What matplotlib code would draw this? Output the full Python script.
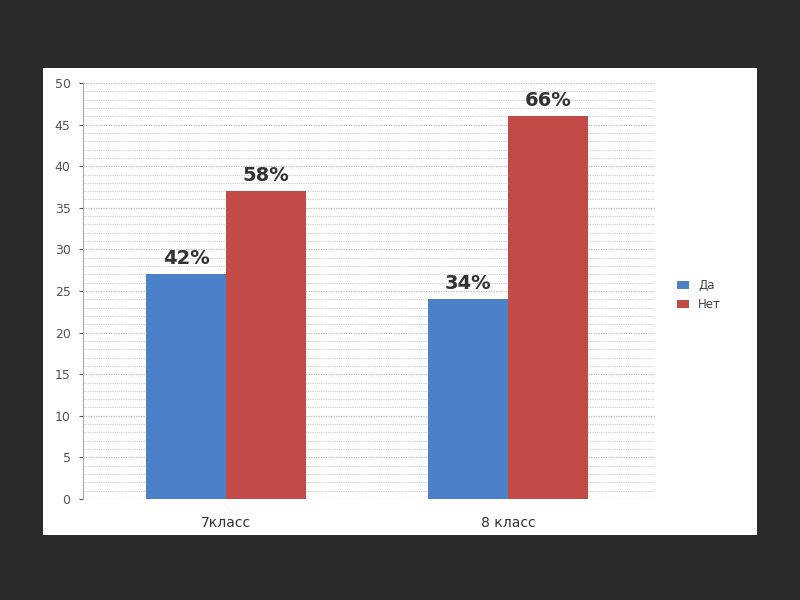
import matplotlib.pyplot as plt
import matplotlib.patches as mpatches
import numpy as np

## values
categories = ["7класс", "8 класс"]
da = [27, 24]
net = [37, 46]
da_pct = ["42%", "34%"]
net_pct = ["58%", "66%"]

blue = "#4c80c9"
red = "#c24a47"

fig = plt.figure(figsize=(8, 6), dpi=100)
fig.patch.set_facecolor("#2b2b2b")

## white chart panel, kept behind the axes
panel = mpatches.Rectangle((43/800, 1-535/600), (757-43)/800, (535-68)/600,
                           transform=fig.transFigure, facecolor="white",
                           edgecolor="none", zorder=-10)
fig.add_artist(panel)

ax = fig.add_axes([83/800, 1-499/600, (655-83)/800, (499-83)/600])
ax.set_facecolor("none")
ax.set_zorder(1)

x = np.arange(len(categories))
w = 0.284
b1 = ax.bar(x - w/2, da, w, color=blue, label="Да", zorder=3)
b2 = ax.bar(x + w/2, net, w, color=red, label="Нет", zorder=3)

for rect, t in zip(b1, da_pct):
    ax.text(rect.get_x() + rect.get_width()/2, rect.get_height() + 0.8, t,
            ha="center", va="bottom", fontsize=14, fontweight="bold", color="#333333")
for rect, t in zip(b2, net_pct):
    ax.text(rect.get_x() + rect.get_width()/2, rect.get_height() + 0.8, t,
            ha="center", va="bottom", fontsize=14, fontweight="bold", color="#333333")

ax.set_ylim(0, 50)
ax.set_xlim(-0.507, 1.521)
ax.set_yticks(np.arange(0, 51, 5))
ax.set_yticks(np.arange(0, 51, 1), minor=True)
ax.grid(axis="y", which="minor", color="#cccccc", linestyle=(0, (1, 1)), linewidth=0.8, zorder=0)
ax.grid(axis="y", which="major", color="#bdbdbd", linestyle=(0, (1, 1)), linewidth=0.9, zorder=0)
ax.tick_params(axis="y", which="major", labelsize=9, colors="#555555", length=3, width=0.8, pad=6)
ax.tick_params(axis="y", which="minor", length=0)
ax.set_xticks(x)
ax.set_xticklabels(categories, fontsize=10, color="#333333")
ax.tick_params(axis="x", length=0, pad=12)

for s in ["top", "right", "bottom"]:
    ax.spines[s].set_visible(False)
ax.spines["left"].set_color("#aaaaaa")

ax.legend(loc="center left", bbox_to_anchor=(1.02, 0.49), frameon=False,
          fontsize=8.5, handlelength=1.0, handleheight=0.7, labelcolor="#444444")

fig.savefig("out.png", dpi=100, facecolor=fig.get_facecolor())
